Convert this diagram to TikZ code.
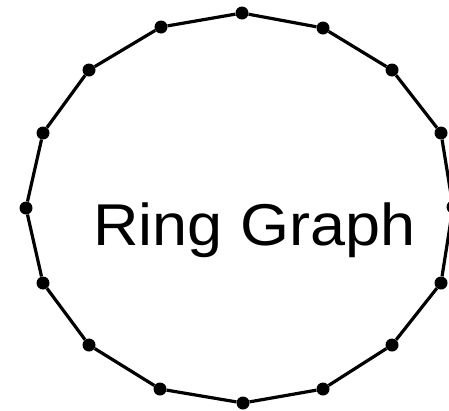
\documentclass[tikz,border=0pt]{standalone}
\usepackage{fontspec}
\setmainfont{Liberation Sans}

\tikzset{
	vertex/.style={circle, fill=black, inner sep=0pt, minimum size=13pt},
	ring/.style={line width=3.2pt, black}
}

\begin{document}
\begin{tikzpicture}[x=1pt, y=-1pt]
	% рамка рисунка
	\useasboundingbox (0,0) rectangle (449,410);

	% вершины кольца
	\foreach \i/\x/\y in {0/242/13, 1/323/28, 2/392/70, 3/441/133,
		4/453/207, 5/441/283, 6/392/345, 7/323/389, 8/243/403,
		9/160/389, 10/89/345, 11/43/283, 12/26/208, 13/43/133,
		14/89/70, 15/161/27}
		\node[vertex] (v\i) at (\x,\y) {};

	% рёбра
	\foreach \i [evaluate=\i as \j using {int(mod(\i+1,16))}] in {0,...,15}
		\draw[ring] (v\i) -- (v\j);

	% подпись
	\node[anchor=base west, inner sep=0pt, font=\fontsize{59}{59}\selectfont]
		(label) at (93,245) {\scalebox{1.067}[1]{Ring Graph}};
\end{tikzpicture}
\end{document}
